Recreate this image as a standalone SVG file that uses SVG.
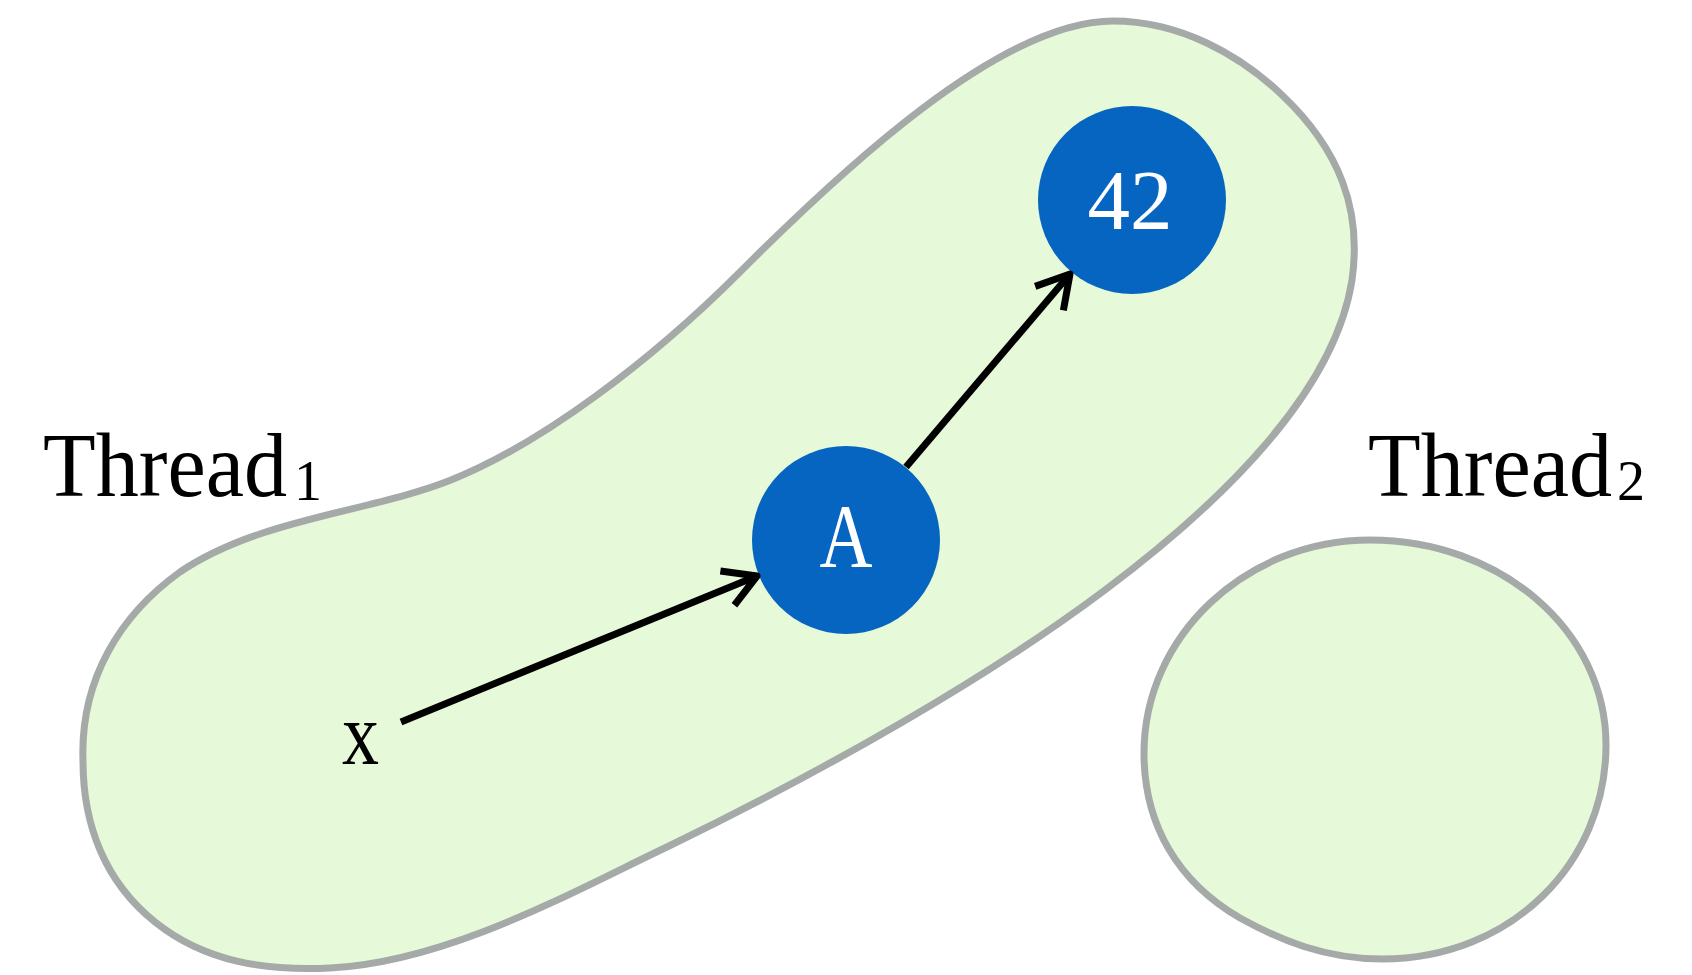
<svg xmlns="http://www.w3.org/2000/svg" width="1692" height="975" viewBox="0 0 1692 975">
  <style>
    .region { fill: #e6f9d9; stroke: #a5aaa8; stroke-width: 7; }
    .node { fill: #0565c0; }
    .label { font-family: "Liberation Serif", "Times New Roman", serif; fill: #000; }
    .nodelabel { font-family: "Liberation Serif", "Times New Roman", serif; fill: #fff; text-anchor: middle; }
    .edge { stroke: #000; stroke-width: 7; fill: none; }
  </style>
  <defs>
    <marker id="chevron" markerUnits="userSpaceOnUse" viewBox="-40 -25 46 50" markerWidth="46" markerHeight="50" refX="0" refY="0" orient="auto">
      <path d="M -32 -18.5 L 0 0 L -32 18.5" fill="none" stroke="#000" stroke-width="7" stroke-linejoin="round"/>
    </marker>
  </defs>

  <rect width="1692" height="975" fill="#fff"/>

  <!-- thread regions -->
  <g id="thread1">
    <path class="region" d="M 83 761
      C 80 680, 120 615, 180 572
      C 260 518, 371 512, 451 480
      C 541 444, 650 362, 740 272
      C 840 172, 1000 21, 1113 21
      C 1180 21, 1240 55, 1282 95
      C 1340 150, 1362 210, 1352 280
      C 1335 390, 1225 500, 1105 590
      C 985 680, 825 770, 669 846
      C 580 888, 450 962, 330 968
      C 265 971, 205 962, 155 922
      C 105 882, 83 825, 83 761 Z"/>
    <text class="label" x="43" y="496" font-size="92"><tspan textLength="244" lengthAdjust="spacingAndGlyphs">Thread</tspan><tspan x="294" y="500" font-size="56">1</tspan></text>
  </g>

  <g id="thread2">
    <path class="region" d="M 1144 753
      C 1144 636, 1246 540, 1370 540
      C 1500 540, 1606 630, 1606 745
      C 1606 862, 1512 959, 1382 959
      C 1325 959, 1280 940, 1240 918
      C 1178 882, 1144 825, 1144 753 Z"/>
    <text class="label" x="1368" y="496" font-size="92"><tspan textLength="244" lengthAdjust="spacingAndGlyphs">Thread</tspan><tspan x="1617" y="500" font-size="56">2</tspan></text>
  </g>

  <!-- variable x -->
  <g id="var-x">
    <text class="label" x="342" y="764" font-size="88" textLength="37" lengthAdjust="spacingAndGlyphs">x</text>
  </g>

  <!-- object nodes -->
  <g id="node-A">
    <circle class="node" cx="846" cy="540" r="94"/>
    <text class="nodelabel" x="846" y="567" font-size="90" textLength="53" lengthAdjust="spacingAndGlyphs">A</text>
  </g>

  <g id="node-42">
    <circle class="node" cx="1132" cy="200" r="94"/>
    <text class="nodelabel" x="1130" y="229" font-size="84" textLength="85" lengthAdjust="spacingAndGlyphs">42</text>
  </g>

  <!-- references -->
  <g id="edges">
    <line class="edge" x1="401" y1="722" x2="757" y2="576" marker-end="url(#chevron)"/>
    <line class="edge" x1="906" y1="467" x2="1070" y2="274" marker-end="url(#chevron)"/>
  </g>
</svg>
